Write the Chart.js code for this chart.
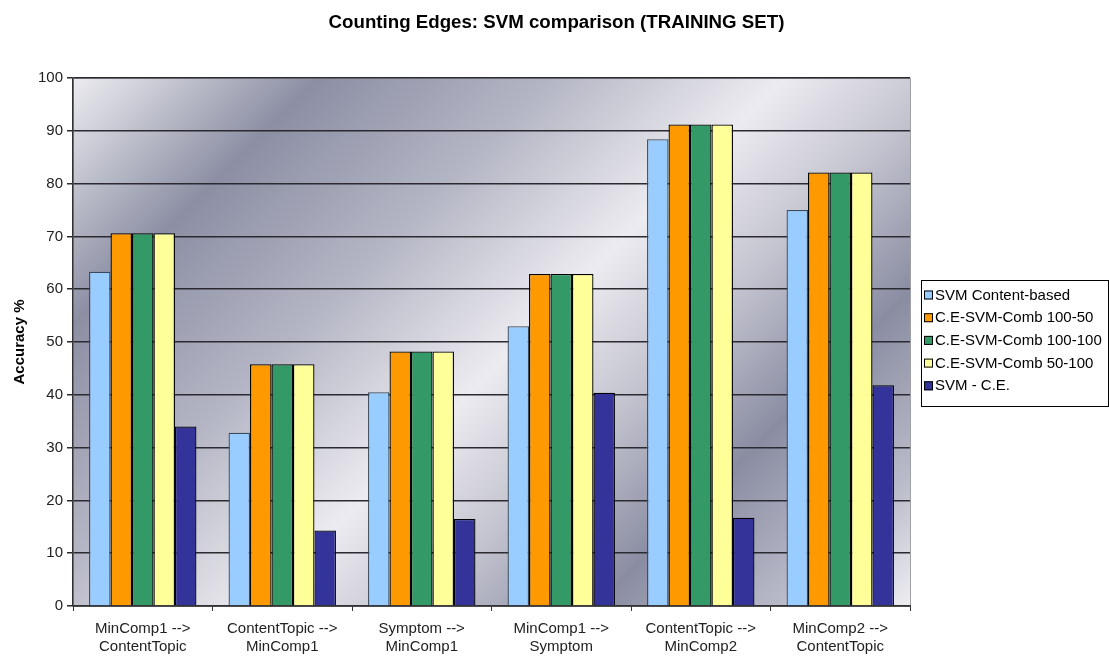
<!DOCTYPE html>
<html><head><meta charset="utf-8">
<script src="https://cdn.jsdelivr.net/npm/chart.js@4.4.1/dist/chart.umd.min.js"></script>
<style>html,body{margin:0;padding:0;background:#fff}#wrap{width:1109px;height:657px;position:relative}</style>
</head><body><div id="wrap"><canvas id="c" width="1109" height="657"></canvas></div>
<script>
const categories = [["MinComp1 -->","ContentTopic"],["ContentTopic -->","MinComp1"],["Symptom -->","MinComp1"],["MinComp1 -->","Symptom"],["ContentTopic -->","MinComp2"],["MinComp2 -->","ContentTopic"]];
const seriesNames = ["SVM Content-based","C.E-SVM-Comb 100-50","C.E-SVM-Comb 100-100","C.E-SVM-Comb 50-100","SVM - C.E."];
const svmContent = [63.3, 32.8, 40.5, 53.0, 88.4, 75.0];
const comb100_50 = [70.6, 45.8, 48.2, 62.9, 91.2, 82.1];
const comb100_100 = [70.6, 45.8, 48.2, 62.9, 91.2, 82.1];
const comb50_100 = [70.6, 45.8, 48.2, 62.9, 91.2, 82.1];
const svmMinusCE = [34.0, 14.3, 16.5, 40.4, 16.7, 41.8];
const colors = ["#99ccff","#ff9900","#339966","#ffff99","#333399"];
const yTicks = [0,10,20,30,40,50,60,70,80,90,100];
const chartTitle = 'Counting Edges: SVM comparison (TRAINING SET)';

const FONT = "'Liberation Sans', Arial, sans-serif";

const bgPlugin = {
  id:'bg',
  beforeDraw(chart){
    const {ctx, chartArea:a} = chart;
    const d = ((a.right + a.bottom) - (a.left + a.top))/2;
    const g = ctx.createLinearGradient(a.left, a.top, a.left + d, a.top + d);
    g.addColorStop(0, '#ececf0');
    g.addColorStop(0.18, '#8c8fa4');
    g.addColorStop(0.35, '#b4b5c4');
    g.addColorStop(0.52, '#ecebf0');
    g.addColorStop(0.64, '#c4c4d0');
    g.addColorStop(0.77, '#8a8da2');
    g.addColorStop(0.9, '#b8b9c8');
    g.addColorStop(1, '#eeeef2');
    ctx.save();
    ctx.fillStyle = g;
    ctx.fillRect(a.left, a.top, a.right - a.left, a.bottom - a.top);
    ctx.strokeStyle = '#a0a0a8';
    ctx.lineWidth = 1;
    ctx.strokeRect(a.left+0.5, a.top+0.5, a.right - a.left, a.bottom - a.top);
    ctx.restore();
    // title centered on full canvas
    ctx.save();
    ctx.font = 'bold 18.7px ' + FONT;
    ctx.fillStyle = '#000';
    ctx.textAlign = 'center';
    ctx.textBaseline = 'middle';
    ctx.fillText(chartTitle, chart.width/2 + 2, 23);
    ctx.restore();
  }
};

const legendPlugin = {
  id:'customLegend',
  afterDraw(chart){
    const ctx = chart.ctx;
    const x0 = 921, y0 = 280, w = 187, h = 126;
    ctx.save();
    ctx.fillStyle = '#ffffff';
    ctx.fillRect(x0, y0, w, h);
    ctx.strokeStyle = '#000';
    ctx.lineWidth = 1;
    ctx.strokeRect(x0+0.5, y0+0.5, w, h);
    ctx.font = '15px ' + FONT;
    ctx.textBaseline = 'middle';
    chart.data.datasets.forEach((ds, i) => {
      const cy = y0 + 14.5 + i * 22.7;
      ctx.fillStyle = ds.backgroundColor;
      ctx.fillRect(x0 + 3, cy - 4, 9, 9);
      ctx.strokeStyle = '#000';
      ctx.strokeRect(x0 + 3.5, cy - 3.5, 8, 8);
      ctx.fillStyle = '#000';
      ctx.fillText(ds.label, x0 + 14, cy + 1);
    });
    ctx.restore();
  }
};

const seriesData = [svmContent, comb100_50, comb100_100, comb50_100, svmMinusCE];
new Chart(document.getElementById('c'), {
  type:'bar',
  data:{
    labels: categories,
    datasets: seriesNames.map((n,i)=>({
      label:n, data:seriesData[i], backgroundColor:colors[i],
      borderColor: i===0 ? '#3a4a5a' : '#000', borderWidth:1.3,
      categoryPercentage:0.77, barPercentage:1.0
    }))
  },
  options:{
    responsive:false, animation:false,
    layout:{padding:{left:0,right:199,top:78,bottom:0}},
    plugins:{
      legend:{display:false},
      tooltip:{enabled:false},
      title:{display:false}
    },
    scales:{
      x:{
        grid:{display:true, drawOnChartArea:false, drawTicks:true, tickLength:5, color:'#333', offset:true},
        border:{display:true, color:'#333', width:1.5},
        ticks:{color:'#222', font:{family:FONT, size:15}, padding:9, maxRotation:0, autoSkip:false},
        afterFit(s){ s.height = 51; }
      },
      y:{
        min:0, max:100,
        afterBuildTicks(s){ s.ticks = yTicks.map(v=>({value:v})); },
        grid:{color:'#2a2a30', lineWidth:1.5, tickLength:6, drawTicks:true},
        border:{display:true, color:'#333', width:1.5},
        ticks:{color:'#222', font:{family:FONT, size:15}, padding:4},
        title:{display:true, text:'Accuracy %', color:'#000', font:{family:FONT, size:15, weight:'bold'}, padding:{top:11,bottom:0}},
        afterFit(s){ s.width = 73; }
      }
    }
  },
  plugins:[bgPlugin, legendPlugin]
});
</script></body></html>
